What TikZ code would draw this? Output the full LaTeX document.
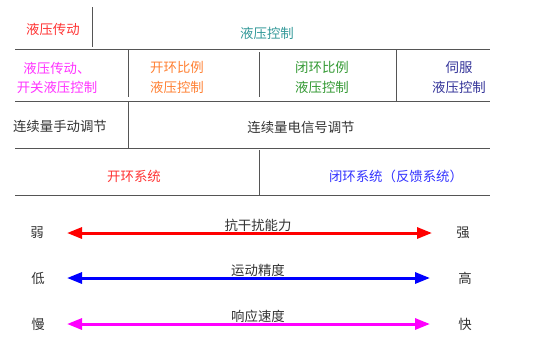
\documentclass[tikz,border=0pt]{standalone}
\usepackage{fontspec}
\setmainfont{Noto Sans CJK SC}
\usetikzlibrary{arrows.meta}
\definecolor{cRed}{RGB}{255,51,51}
\definecolor{cTeal}{RGB}{51,153,153}
\definecolor{cMag}{RGB}{255,51,255}
\definecolor{cOrange}{RGB}{255,128,51}
\definecolor{cGreen}{RGB}{51,153,51}
\definecolor{cNavy}{RGB}{51,51,153}
\definecolor{cBlue}{RGB}{51,51,255}
\definecolor{cText}{RGB}{51,51,51}
\definecolor{cLine}{RGB}{85,85,85}
\definecolor{aRed}{RGB}{255,0,0}
\definecolor{aBlue}{RGB}{0,0,255}
\definecolor{aMag}{RGB}{255,0,255}
\tikzset{
  lbl/.style={inner sep=0pt, font=\fontsize{13.4}{19.5}\selectfont, align=center},
  grid/.style={draw=cLine, line width=1pt},
  dbl/.style={line width=3pt, {Triangle[length=15pt,width=11pt]}-{Triangle[length=15pt,width=11pt]}},
}
\begin{document}
\begin{tikzpicture}[x=1pt,y=-1pt]
\useasboundingbox (0,0) rectangle (543,360);
% grid lines
\draw[grid] (92,7) -- (92,47);
\draw[grid] (15,49) -- (490,49);
\draw[grid] (128,49) -- (128,97);
\draw[grid] (259,52) -- (259,97);
\draw[grid] (396,49) -- (396,101);
\draw[grid] (15,101) -- (490,101);
\draw[grid] (128,101) -- (128,148);
\draw[grid] (15,148) -- (490,148);
\draw[grid] (259,150) -- (259,195);
\draw[grid] (15,195) -- (490,195);
% texts
\node[lbl, text=cRed] (yycd) at (53,29) {液压传动};
\node[lbl, text=cTeal] (yykz) at (267,33) {液压控制};
\node[lbl, text=cMag] (kgyy) at (57,78) {液压传动、\\开关液压控制};
\node[lbl, text=cOrange] (khbl) at (177,77.5) {开环比例\\液压控制};
\node[lbl, text=cGreen] (bhbl) at (322,77.5) {闭环比例\\液压控制};
\node[lbl, text=cNavy] (sf) at (459,77.5) {伺服\\液压控制};
\node[lbl, text=cText] (sdtj) at (60,126) {连续量手动调节};
\node[lbl, text=cText] (dxtj) at (301,127) {连续量电信号调节};
\node[lbl, text=cRed] (khxt) at (134,176) {开环系统};
\node[lbl, text=cBlue] (bhxt) at (396,176) {闭环系统（反馈系统）};
% scales
\node[lbl, text=cText] (ruo) at (37,233) {弱};
\node[lbl, text=cText] (qiang) at (463,233) {强};
\node[lbl, text=cText] (di) at (38,278) {低};
\node[lbl, text=cText] (gao) at (465,278) {高};
\node[lbl, text=cText] (man) at (38,324) {慢};
\node[lbl, text=cText] (kuai) at (465,324) {快};
\coordinate (a1) at (67,233); \coordinate (b1) at (432,233);
\coordinate (a2) at (67,278); \coordinate (b2) at (430,278);
\coordinate (a3) at (67,324); \coordinate (b3) at (430,324);
\draw[dbl, aRed] (a1) -- (b1);
\draw[dbl, aBlue] (a2) -- (b2);
\draw[dbl, aMag] (a3) -- (b3);
\node[lbl, text=cText] (kgr) at (258,225) {抗干扰能力};
\node[lbl, text=cText] (ydjd) at (258,270) {运动精度};
\node[lbl, text=cText] (xysd) at (258,316) {响应速度};
\end{tikzpicture}
\end{document}
